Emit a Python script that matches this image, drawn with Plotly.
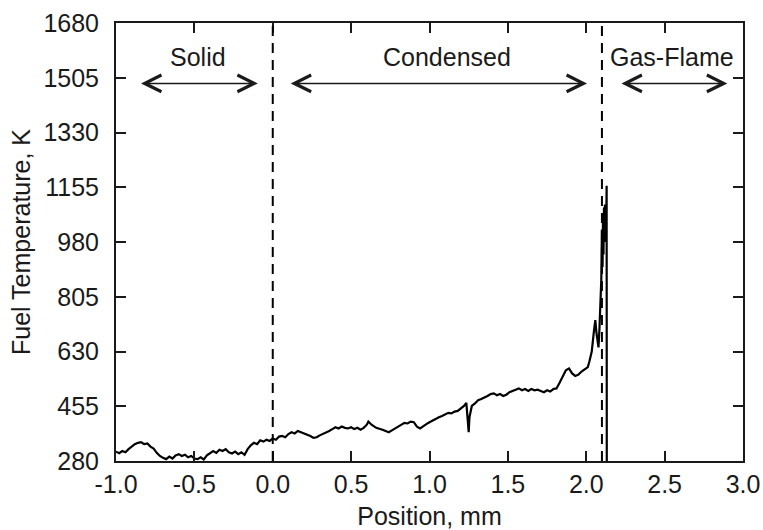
import plotly.graph_objects as go

# ---- data ----
position_mm = [
    -1.00, -0.98, -0.96, -0.94, -0.92, -0.90, -0.88, -0.86, -0.84, -0.82,
    -0.80, -0.78, -0.76, -0.74, -0.72, -0.70, -0.68, -0.66, -0.64, -0.62,
    -0.60, -0.58, -0.56, -0.54, -0.52, -0.50, -0.48, -0.46, -0.44, -0.42,
    -0.40, -0.38, -0.36, -0.34, -0.32, -0.30, -0.28, -0.26, -0.24, -0.22,
    -0.20, -0.18, -0.16, -0.14, -0.12, -0.10, -0.08, -0.06, -0.04, -0.02,
    0.00, 0.02, 0.04, 0.06, 0.08, 0.10, 0.12, 0.14, 0.16, 0.18,
    0.20, 0.22, 0.24, 0.26, 0.28, 0.30, 0.32, 0.34, 0.36, 0.38,
    0.40, 0.42, 0.44, 0.46, 0.48, 0.50, 0.52, 0.54, 0.56, 0.58,
    0.60, 0.61, 0.63, 0.66, 0.68, 0.70, 0.72, 0.74, 0.76, 0.78,
    0.80, 0.82, 0.84, 0.86, 0.88, 0.90, 0.92, 0.94, 0.96, 0.98,
    1.00, 1.02, 1.04, 1.06, 1.08, 1.10, 1.12, 1.14, 1.16, 1.18,
    1.20, 1.22, 1.235, 1.245, 1.25, 1.255, 1.27, 1.29, 1.31, 1.33,
    1.35, 1.37, 1.39, 1.41, 1.43, 1.45, 1.47, 1.49, 1.51, 1.53,
    1.55, 1.57, 1.59, 1.61, 1.63, 1.65, 1.67, 1.69, 1.71, 1.73,
    1.75, 1.77, 1.79, 1.81, 1.83, 1.85, 1.87, 1.89, 1.91, 1.93,
    1.95, 1.97, 1.99, 2.01, 2.02, 2.035, 2.05, 2.058, 2.065, 2.072,
    2.078, 2.084, 2.090, 2.096, 2.100, 2.104, 2.107, 2.110, 2.113, 2.116,
    2.119, 2.122, 2.125, 2.128, 2.130, 2.131,
]
fuel_temperature_K = [
    310, 305, 312, 308, 318, 326, 334, 338, 340, 334,
    336, 326, 320, 306, 296, 290, 286, 294, 288, 298,
    302, 296, 300, 292, 296, 288, 286, 292, 285, 298,
    305, 312, 306, 316, 312, 318, 308, 304, 310, 302,
    308, 300, 318, 330, 338, 334, 346, 342, 348, 344,
    352, 348, 358, 360, 356, 366, 372, 368, 376, 372,
    370, 366, 360, 354, 356, 362, 366, 372, 376, 382,
    388, 384, 390, 386, 384, 388, 382, 386, 380, 386,
    396, 406, 396, 386, 384, 380, 376, 372, 378, 384,
    392, 398, 402, 400, 406, 404, 390, 384, 392, 398,
    404, 410, 414, 420, 424, 430, 434, 432, 438, 440,
    448, 456, 466, 380, 372, 420, 456, 464, 474, 478,
    482, 488, 494, 496, 490, 494, 488, 492, 500, 504,
    508, 512, 506, 510, 504, 510, 506, 508, 504, 500,
    506, 502, 510, 512, 530, 550, 570, 576, 560, 552,
    556, 566, 574, 580, 598, 630, 700, 730, 690, 660,
    643, 700, 800, 860, 1020, 900, 1070, 940, 1090, 980,
    1100, 1000, 1080, 1050, 1160, 280,
]

x_ticks = [-1.0, -0.5, 0.0, 0.5, 1.0, 1.5, 2.0, 2.5, 3.0]
x_tick_labels = ["-1.0", "-0.5", "0.0", "0.5", "1.0", "1.5", "2.0", "2.5", "3.0"]
y_ticks = [280, 455, 630, 805, 980, 1155, 1330, 1505, 1680]

zone_boundaries = [0.0, 2.1]
zone_names = ["Solid", "Condensed", "Gas-Flame"]
zone_label_x = [-0.477, 1.11, 2.55]
zone_label_T = 1570
arrow_start = [-0.85, 0.105, 2.215]
arrow_end = [-0.095, 2.005, 2.90]
arrow_T = 1487

FONT = "Arial, Liberation Sans, sans-serif"
INK = "#1a1a1a"
FS = 25

fig = go.Figure()
fig.add_trace(go.Scatter(
    x=position_mm, y=fuel_temperature_K, mode="lines",
    line=dict(color="black", width=2.2), showlegend=False,
))

shapes = []
for b in zone_boundaries:
    shapes.append(dict(type="line", xref="x", yref="paper", x0=b, x1=b, y0=0, y1=1,
                       line=dict(color="black", width=2, dash="10px,7px")))

annotations = []
for name, lx in zip(zone_names, zone_label_x):
    annotations.append(dict(x=lx, y=zone_label_T, xref="x", yref="y", text=name,
                            showarrow=False, font=dict(family=FONT, size=FS, color=INK)))
for a0, a1 in zip(arrow_start, arrow_end):
    annotations.append(dict(x=a1, y=arrow_T, ax=a0, ay=arrow_T, xref="x", yref="y",
                            axref="x", ayref="y", text="", showarrow=True,
                            arrowhead=5, startarrowhead=5, arrowside="end+start",
                            arrowsize=2.2, startarrowsize=2.2, arrowwidth=1.5,
                            arrowcolor=INK, standoff=0, startstandoff=0))

fig.update_layout(
    template="none",
    width=763, height=530,
    margin=dict(l=116, r=20, t=23, b=69, autoexpand=False),
    paper_bgcolor="white", plot_bgcolor="white",
    font=dict(family=FONT, size=FS, color=INK),
    shapes=shapes, annotations=annotations,
    xaxis=dict(range=[-1.0, 3.0], tickvals=x_ticks, ticktext=x_tick_labels,
               ticks="inside", ticklen=10, tickwidth=1.5, tickcolor=INK,
               showline=True, linewidth=2, linecolor=INK, mirror="ticks",
               showgrid=False, zeroline=False, automargin=False,
               tickfont=dict(family=FONT, size=FS, color=INK),
               title=dict(text="Position, mm", standoff=10,
                          font=dict(family=FONT, size=FS, color=INK))),
    yaxis=dict(range=[280, 1680], tickvals=y_ticks,
               ticks="inside", ticklen=10, tickwidth=1.5, tickcolor=INK,
               showline=True, linewidth=2, linecolor=INK, mirror="ticks",
               showgrid=False, zeroline=False, ticklabelstandoff=10, automargin=False,
               tickfont=dict(family=FONT, size=FS, color=INK),
               title=dict(text="Fuel Temperature, K", standoff=6,
                          font=dict(family=FONT, size=FS, color=INK))),
)

fig.write_html("out.html")
